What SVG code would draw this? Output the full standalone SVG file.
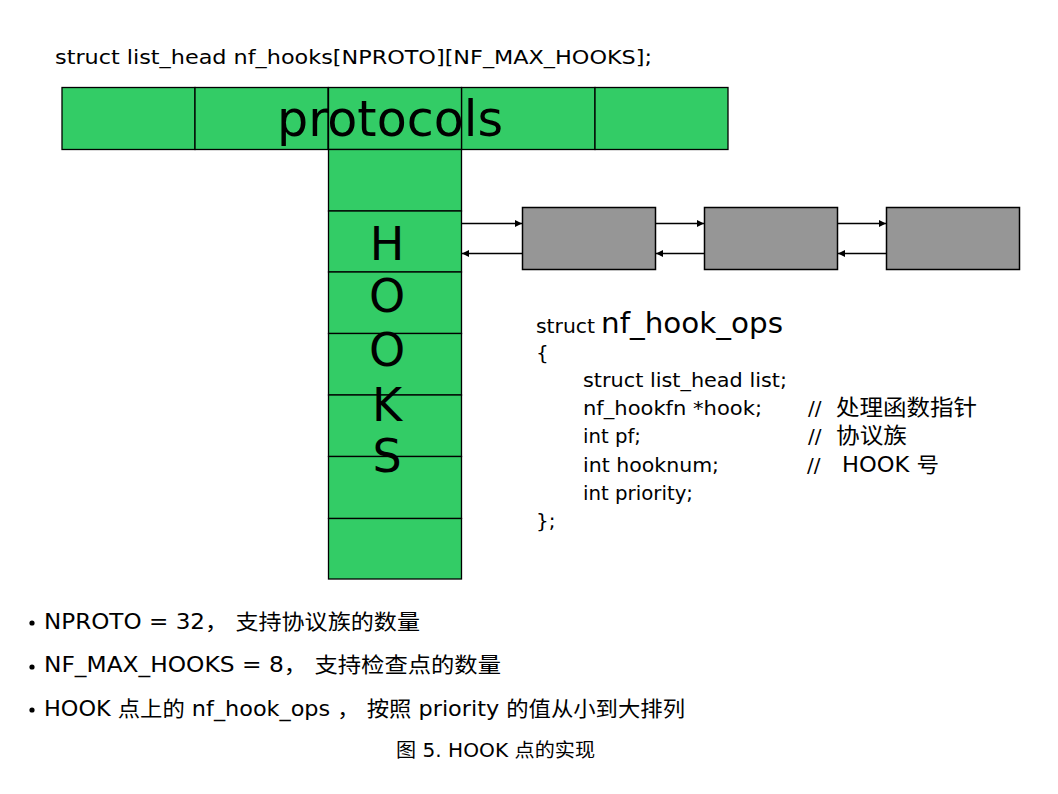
<svg xmlns="http://www.w3.org/2000/svg" width="1058" height="794" viewBox="0 0 1058 794">
<style>
.g{fill:#33cc66;stroke:#000;stroke-width:1.3}
.b{fill:#969696;stroke:#000;stroke-width:1.5}
.t{font-family:"DejaVu Sans","Noto Sans CJK SC",sans-serif;fill:#000}
.c{stroke:#000;stroke-width:1.3;fill:none}
</style>
<defs>
<marker id="ah" viewBox="0 0 10 10" refX="10" refY="5" markerWidth="7" markerHeight="7" markerUnits="userSpaceOnUse" orient="auto">
<path d="M0,0 L10,5 L0,10 z" fill="#000"/>
</marker>
</defs>
<rect width="1058" height="794" fill="#fff"/>
<text class="t" x="55" y="63.5" font-size="20" textLength="597" lengthAdjust="spacingAndGlyphs">struct list_head nf_hooks[NPROTO][NF_MAX_HOOKS];</text>
<g id="protocols">
<rect class="g" x="62" y="87.5" width="133" height="62"/>
<rect class="g" x="195" y="87.5" width="133" height="62"/>
<rect class="g" x="461.5" y="87.5" width="133.5" height="62"/>
<rect class="g" x="595" y="87.5" width="133" height="62"/>
</g>
<g id="hooks">
<rect class="g" x="328.5" y="87.5" width="133" height="62"/>
<rect class="g" x="328.5" y="149.5" width="133" height="61.5"/>
<rect class="g" x="328.5" y="211" width="133" height="61"/>
<rect class="g" x="328.5" y="272" width="133" height="61.5"/>
<rect class="g" x="328.5" y="333.5" width="133" height="61.5"/>
<rect class="g" x="328.5" y="395" width="133" height="61.5"/>
<rect class="g" x="328.5" y="456.5" width="133" height="62"/>
<rect class="g" x="328.5" y="518.5" width="133" height="60.5"/>
</g>
<text class="t" x="277" y="136" font-size="49" textLength="226" lengthAdjust="spacingAndGlyphs">protocols</text>
<g class="t" font-size="46" text-anchor="middle">
<text x="387" y="260">H</text>
<text x="387" y="312">O</text>
<text x="387" y="366">O</text>
<text x="387" y="421">K</text>
<text x="387" y="472">S</text>
</g>
<g id="ops1"><rect class="b" x="522.5" y="207.5" width="133" height="62"/></g>
<g id="ops2"><rect class="b" x="704.5" y="207.5" width="133" height="62"/></g>
<g id="ops3"><rect class="b" x="886.5" y="207.5" width="133" height="62"/></g>
<g id="connectors">
<line class="c" x1="462" y1="223.5" x2="522" y2="223.5" marker-end="url(#ah)"/>
<line class="c" x1="522" y1="253.5" x2="462" y2="253.5" marker-end="url(#ah)"/>
<line class="c" x1="656" y1="223.5" x2="704" y2="223.5" marker-end="url(#ah)"/>
<line class="c" x1="704" y1="253.5" x2="656" y2="253.5" marker-end="url(#ah)"/>
<line class="c" x1="838" y1="223.5" x2="886" y2="223.5" marker-end="url(#ah)"/>
<line class="c" x1="886" y1="253.5" x2="838" y2="253.5" marker-end="url(#ah)"/>
</g>
<g id="struct" class="t">
<text x="536" y="333" font-size="20" textLength="59" lengthAdjust="spacingAndGlyphs">struct</text>
<text x="601" y="333" font-size="28.5" textLength="182" lengthAdjust="spacingAndGlyphs">nf_hook_ops</text>
<text x="536" y="360" font-size="20">{</text>
<text x="583" y="387" font-size="20" textLength="204" lengthAdjust="spacingAndGlyphs">struct list_head list;</text>
<text x="583" y="415" font-size="20" textLength="179" lengthAdjust="spacingAndGlyphs">nf_hookfn *hook;</text>
<text x="583" y="443" font-size="20" textLength="58" lengthAdjust="spacingAndGlyphs">int pf;</text>
<text x="583" y="472" font-size="20" textLength="136" lengthAdjust="spacingAndGlyphs">int hooknum;</text>
<text x="583" y="500" font-size="20" textLength="110" lengthAdjust="spacingAndGlyphs">int priority;</text>
<text x="536" y="528" font-size="20">};</text>
<text x="808" y="415" font-size="20">//</text>
<text x="836" y="415" font-size="22" textLength="141" lengthAdjust="spacingAndGlyphs">处理函数指针</text>
<text x="808" y="443" font-size="20">//</text>
<text x="836" y="443" font-size="22" textLength="71" lengthAdjust="spacingAndGlyphs">协议族</text>
<text x="807" y="472" font-size="20">//</text>
<text x="842" y="472" font-size="21" textLength="97" lengthAdjust="spacingAndGlyphs">HOOK 号</text>
</g>
<g id="notes" class="t" font-size="21">
<circle cx="32" cy="623" r="2.6" fill="#000"/>
<circle cx="32" cy="667" r="2.6" fill="#000"/>
<circle cx="32" cy="710" r="2.6" fill="#000"/>
<text x="44" y="628.5" textLength="376" lengthAdjust="spacingAndGlyphs">NPROTO = 32， 支持协议族的数量</text>
<text x="44" y="672" textLength="457" lengthAdjust="spacingAndGlyphs">NF_MAX_HOOKS = 8， 支持检查点的数量</text>
<text x="44" y="715.5" textLength="641" lengthAdjust="spacingAndGlyphs">HOOK 点上的 nf_hook_ops ， 按照 priority 的值从小到大排列</text>
<text x="396" y="757" font-size="19" textLength="199" lengthAdjust="spacingAndGlyphs">图 5. HOOK 点的实现</text>
</g>
</svg>
